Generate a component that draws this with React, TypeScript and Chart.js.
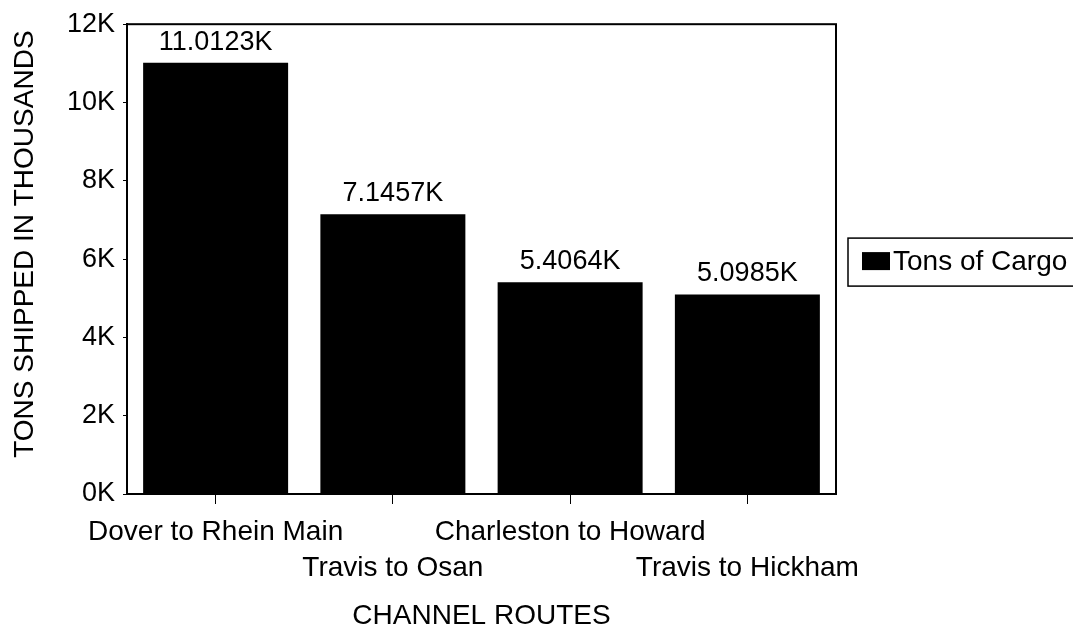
import React, { useEffect, useRef } from "react";
import { Chart, registerables } from "chart.js";

Chart.register(...registerables);

const FONT = '"Liberation Sans", Arial, Helvetica, sans-serif';

const categories = ["Dover to Rhein Main", "Travis to Osan", "Charleston to Howard", "Travis to Hickham"];
const labelRows = [0, 1, 0, 1];
const values = [11.0123, 7.1457, 5.4064, 5.0985];
const yMin = 0;
const yMax = 12;
const yStep = 2;
const seriesName = "Tons of Cargo";
const yTitle = "TONS SHIPPED IN THOUSANDS";
const xTitle = "CHANNEL ROUTES";

const labels = categories.map((c, i) => (labelRows[i] === 0 ? [c, ""] : ["", c]));

const decorPlugin = {
  id: "decor",
  afterDatasetsDraw(chart: any) {
    const { ctx, chartArea: a } = chart;
    ctx.save();
    ctx.strokeStyle = "#000";
    ctx.lineWidth = 2;
    ctx.strokeRect(a.left, a.top, a.right - a.left, a.bottom - a.top);

    // value labels
    const meta = chart.getDatasetMeta(0);
    ctx.fillStyle = "#000";
    ctx.font = `27px ${FONT}`;
    ctx.textAlign = "center";
    ctx.textBaseline = "alphabetic";
    meta.data.forEach((bar: any, i: number) => {
      const v = chart.data.datasets[0].data[i];
      ctx.fillText(`${v}K`, bar.x, bar.y - 13);
    });

    // y axis title
    ctx.save();
    ctx.translate(25, (a.top + a.bottom) / 2 - 15);
    ctx.rotate(-Math.PI / 2);
    ctx.font = `28px ${FONT}`;
    ctx.textBaseline = "middle";
    ctx.textAlign = "center";
    ctx.fillText(yTitle, 0, 0);
    ctx.restore();

    // legend
    const ds = chart.data.datasets[0];
    const bx = a.right + 12;
    const by = (a.top + a.bottom) / 2 - 21;
    ctx.lineWidth = 1.5;
    ctx.strokeRect(bx, by, 260, 48);
    ctx.fillStyle = ds.backgroundColor;
    ctx.fillRect(bx + 14, by + 14, 28, 18);
    ctx.fillStyle = "#000";
    ctx.font = `28px ${FONT}`;
    ctx.textAlign = "left";
    ctx.textBaseline = "middle";
    ctx.fillText(ds.label, bx + 45, by + 24);
    ctx.restore();
  },
};

export default function App() {
  const ref = useRef<HTMLCanvasElement>(null);
  useEffect(() => {
    if (!ref.current) return;
    Chart.defaults.font.family = FONT;
    Chart.defaults.color = "#000";
    const chart = new Chart(ref.current, {
      type: "bar",
      data: {
        labels,
        datasets: [
          {
            label: seriesName,
            data: values,
            backgroundColor: "#000",
            borderWidth: 0,
            categoryPercentage: 1,
            barPercentage: 0.818,
          },
        ],
      },
      options: {
        animation: false,
        responsive: false,
        layout: { padding: { top: 22, right: 237, left: 0, bottom: 0 } },
        plugins: { legend: { display: false }, tooltip: { enabled: false } },
        scales: {
          x: {
            offset: true,
            grid: { display: true, drawOnChartArea: false, offset: false, tickLength: 10, color: "#000" },
            border: { display: true, color: "#000", width: 2 },
            ticks: {
              autoSkip: false,
              maxRotation: 0,
              minRotation: 0,
              padding: 10,
              font: { size: 28, lineHeight: 1.2857 },
              color: "#000",
            },
            title: {
              display: true,
              text: xTitle,
              font: { size: 28, lineHeight: 1.05 },
              padding: { top: 0, bottom: 0 },
              color: "#000",
            },
            afterFit: (s: any) => {
              s.height = 137;
            },
          },
          y: {
            min: yMin,
            max: yMax,
            grid: { display: true, drawOnChartArea: false, tickLength: 4, color: "#000" },
            border: { display: true, color: "#000", width: 2 },
            ticks: {
              stepSize: yStep,
              padding: 8,
              font: { size: 27 },
              color: "#000",
              callback: (v: any) => `${v}K`,
            },
            afterFit: (s: any) => {
              s.width = 127;
            },
          },
        },
      },
      plugins: [decorPlugin],
    });
    return () => chart.destroy();
  }, []);
  return (
    <div style={{ position: "absolute", left: 0, top: 0, width: 1073, height: 631, background: "#fff" }}>
      <canvas ref={ref} width={1073} height={631} style={{ display: "block" }} />
    </div>
  );
}
